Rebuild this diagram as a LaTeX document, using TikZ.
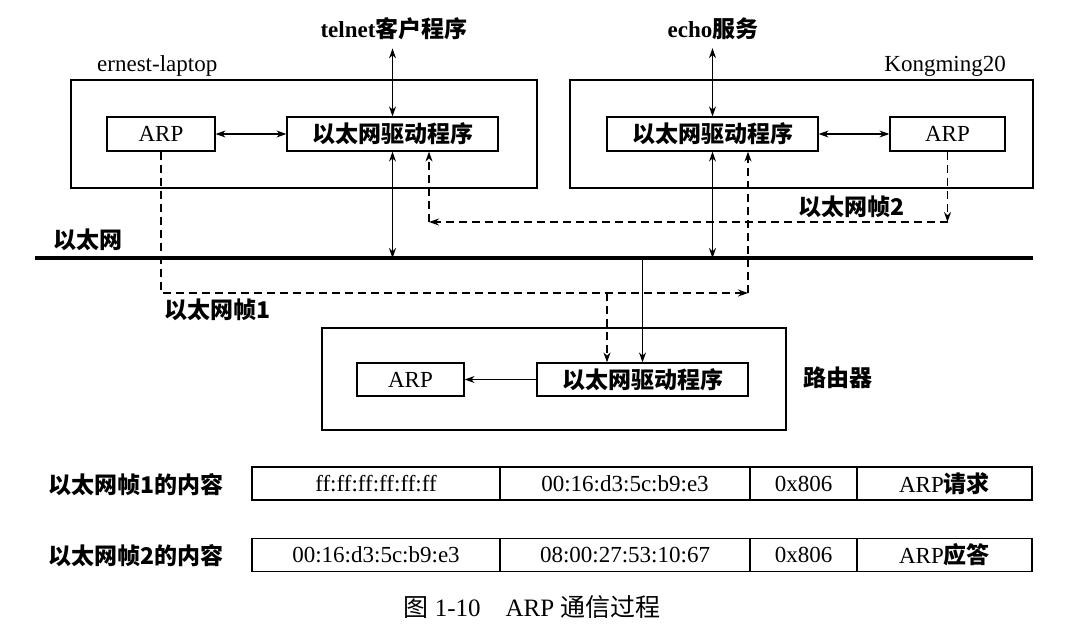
\documentclass[tikz,border=0pt]{standalone}
\usepackage{fontspec}
\setmainfont{Liberation Serif}
\newfontfamily\cjk{Noto Sans CJK SC}
\usetikzlibrary{arrows.meta}
\newcommand{\zh}[1]{{\cjk\bfseries #1}}
\newcommand{\zhr}[1]{{\cjk #1}}
\begin{document}
\begin{tikzpicture}[x=1pt,y=-1pt,
  box/.style={draw, line width=1.2pt, minimum height=34pt, inner sep=0pt, font=\fontsize{23}{26}\selectfont},
  frame/.style={draw, line width=1.2pt, inner sep=0pt},
  lbl/.style={inner sep=0pt, font=\fontsize{23}{26}\selectfont},
  link/.style={line width=1.2pt, {Stealth[length=10pt,width=7pt]}-{Stealth[length=10pt,width=7pt]}},
  oneway/.style={line width=1.2pt, -{Stealth[length=10pt,width=7pt]}},
  dsh/.style={line width=1.4pt, dash pattern=on 8pt off 5pt, -{Stealth[length=10pt,width=7pt]}},
  cell/.style={draw, line width=1.2pt, minimum height=33pt, inner sep=0pt, font=\fontsize{23}{26}\selectfont},
]
\useasboundingbox (0,0) rectangle (1073,640);
% hosts
\node[frame, minimum width=466pt, minimum height=108pt] (lap) at (304,134) {};
\node[lbl, anchor=west] (lapname) at (97,66) {ernest-laptop};
\node[box, minimum width=108pt] (lapARP) at (161,134) {ARP};
\node[box, minimum width=211pt] (lapDrv) at (392.5,134) {\zh{以太网驱动程序}};
\node[lbl] (telnet) at (394,29) {\textbf{telnet}\zh{客户程序}};
\node[frame, minimum width=463pt, minimum height=108pt] (km) at (801.5,134) {};
\node[lbl, anchor=east] (kmname) at (1006,66) {Kongming20};
\node[box, minimum width=211pt] (kmDrv) at (712.5,134) {\zh{以太网驱动程序}};
\node[box, minimum width=115pt] (kmARP) at (947.5,134) {ARP};
\node[lbl] (echo) at (713,29) {\textbf{echo}\zh{服务}};
% ethernet
\coordinate (ethL) at (35,258);
\coordinate (ethR) at (1033,258);
\draw[line width=4.5pt] (ethL) -- (ethR);
\node[lbl] (ethname) at (88,240) {\zh{以太网}};
% router
\node[frame, minimum width=464pt, minimum height=102pt] (rt) at (554,379) {};
\node[box, minimum width=107pt, minimum height=33pt] (rARP) at (410.5,379.5) {ARP};
\node[box, minimum width=211pt, minimum height=33pt] (rDrv) at (642.5,379.5) {\zh{以太网驱动程序}};
\node[lbl] (rtname) at (838,378) {\zh{路由器}};
% frame labels
\node[lbl] (f1) at (218,310) {\zh{以太网帧1}};
\node[lbl] (f2) at (851,207) {\zh{以太网帧2}};
% solid connectors
\coordinate (t0) at (lapDrv.north |- 0,50);
\coordinate (t1) at (kmDrv.north |- 0,50);
\draw[link] ([yshift=-8pt]telnet.south -| lapDrv.north) -- (lapDrv.north);
\draw[link] ([yshift=-8pt]echo.south -| kmDrv.north) -- (kmDrv.north);
\draw[link] (lapARP) -- (lapDrv);
\draw[link] (kmDrv) -- (kmARP);
\coordinate (e1) at (lapDrv.south |- ethL);
\coordinate (e2) at (kmDrv.south |- ethL);
\coordinate (e3) at (rDrv.north |- ethL);
\draw[link] (lapDrv.south) -- (e1);
\draw[link] (kmDrv.south) -- (e2);
\draw[oneway] (e3) -- (rDrv.north);
\draw[oneway] (rDrv) -- (rARP);
% frame 1
\coordinate (f1c) at (748,293);
\coordinate (f1b) at (607,293);
\draw[dsh] (lapARP.south) |- (f1c);
\draw[dsh] (f1c) -- (f1c |- kmDrv.south);
\draw[dsh] (f1b) -- (f1b |- rDrv.north);
% frame 2
\coordinate (y222) at (0,222);
\coordinate (f2a) at (kmARP.south |- y222);
\coordinate (f2b) at (429,222);
\draw[dsh] (kmARP.south) -- (f2a);
\draw[dsh] (f2a) -- (f2b);
\draw[dsh] (f2b) -- (f2b |- lapDrv.south);
% table
\node[lbl] (r1) at (136,485) {\zh{以太网帧1的内容}};
\node[cell, minimum width=248pt] (a1) at (376,483.5) {ff:ff:ff:ff:ff:ff};
\node[cell, minimum width=250pt] (b1) at (625,483.5) {00:16:d3:5c:b9:e3};
\node[cell, minimum width=107pt] (c1) at (803.5,483.5) {0x806};
\node[cell, minimum width=175pt] (d1) at (944.5,483.5) {ARP\zh{请求}};
\node[lbl] (r2) at (136,556) {\zh{以太网帧2的内容}};
\node[cell, minimum width=248pt] (a2) at (376,555) {00:16:d3:5c:b9:e3};
\node[cell, minimum width=250pt] (b2) at (625,555) {08:00:27:53:10:67};
\node[cell, minimum width=107pt] (c2) at (803.5,555) {0x806};
\node[cell, minimum width=175pt] (d2) at (944.5,555) {ARP\zh{应答}};
% caption
\node[lbl, font=\fontsize{25}{28}\selectfont] (cap) at (532,607) {\zhr{图}~1-10\quad ARP~\zhr{通信过程}};
\end{tikzpicture}
\end{document}
